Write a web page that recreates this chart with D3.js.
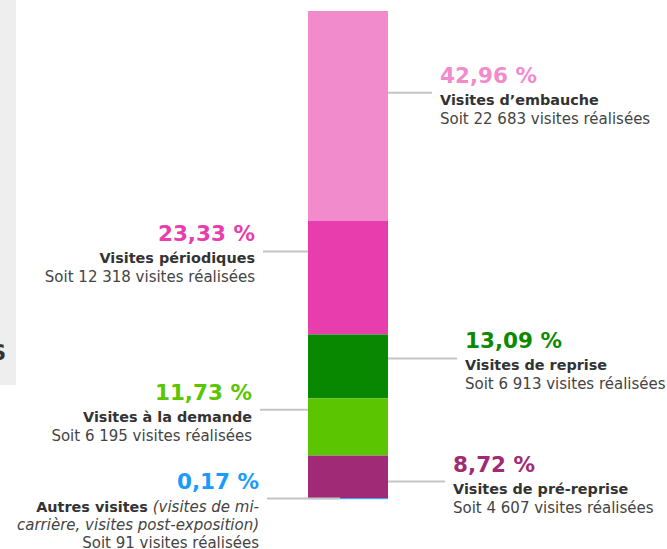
<!DOCTYPE html>
<html lang="fr">
<head>
<meta charset="utf-8">
<script src="https://cdn.jsdelivr.net/npm/d3@7"></script>
<style>
  html, body { margin: 0; padding: 0; background: #ffffff; }
  svg { display: block; font-family: 'DejaVu Sans', sans-serif; }
</style>
</head>
<body>
<svg id="chart" width="667" height="549"></svg>
<script>
const categories = [
  'Visites d\u2019embauche',
  'Visites périodiques',
  'Visites de reprise',
  'Visites à la demande',
  'Visites de pré-reprise',
  'Autres visites',
];
const percents = [42.96, 23.33, 13.09, 11.73, 8.72, 0.17];
const counts = [22683, 12318, 6913, 6195, 4607, 91];
const sides = ['right', 'left', 'right', 'left', 'right', 'left'];
const colors = ['#f28bcb', '#e83dac', '#078800', '#5ac500', '#a02a75', '#1e9bff'];
const textColors = ['#f28bcb', '#e83dac', '#0b8a00', '#5ac500', '#a02a75', '#1a9bff'];

// where the leader line sits inside each segment (0 = top, 1 = bottom)
const anchors = [0.39, 0.27, 0.375, 0.2, 0.61, 0.5];
// leader line length out of the bar
const leaderLen = [44, 45, 69, 48, 57, 41];

const fr = d3.formatLocale({ decimal: ',', thousands: '\u00a0', grouping: [3], currency: ['', ' €'] });
const fmtPct = (v) => `${fr.format('.2f')(v)}\u00a0%`;
const fmtCount = fr.format(',d');

const svg = d3.select('#chart');

// grey strip of the neighbouring panel
svg.append('rect').attr('x', 0).attr('y', 0).attr('width', 16).attr('height', 385).attr('fill', '#eeeeee');
svg.append('text').attr('x', 6).attr('y', 360).attr('text-anchor', 'end')
  .attr('font-size', 21).attr('font-weight', 700).attr('fill', '#333').text('S');

const barX = 308;
const barW = 80;
const y = d3.scaleLinear().domain([0, 100]).range([11, 499]);

const rows = categories.map((name, i) => {
  const start = d3.sum(percents.slice(0, i));
  return {
    name, pct: percents[i], count: counts[i], side: sides[i],
    color: colors[i], textColor: textColors[i],
    y0: y(start), y1: y(start + percents[i]),
    anchor: anchors[i], len: leaderLen[i],
  };
});

svg.append('g').selectAll('rect').data(rows).join('rect')
  .attr('x', barX).attr('width', barW)
  .attr('y', (d) => d.y0)
  .attr('height', (d) => Math.max(1, d.y1 - d.y0))
  .attr('fill', (d) => d.color);

const labels = svg.append('g').selectAll('g').data(rows).join('g')
  .attr('transform', (d) => `translate(0,${d.y0 + (d.y1 - d.y0) * d.anchor})`);

labels.append('line')
  .attr('x1', (d) => (d.side === 'right' ? barX + barW : barX - d.len))
  .attr('x2', (d) => (d.side === 'right' ? barX + barW + d.len : (d.name === 'Autres visites' ? barX + 32 : barX)))
  .attr('stroke', '#c4c4c4').attr('stroke-width', 2);

labels.each(function (d) {
  const g = d3.select(this);
  const right = d.side === 'right';
  const tx = right ? barX + barW + d.len + 8 : barX - d.len - 8;
  const anchor = right ? 'start' : 'end';

  g.append('text').attr('x', tx).attr('y', -10).attr('text-anchor', anchor)
    .attr('font-size', 21.5).attr('font-weight', 700).attr('fill', d.textColor)
    .text(fmtPct(d.pct));

  let soitY = 31;
  if (d.name === 'Autres visites') {
    const t1 = g.append('text').attr('x', tx).attr('y', 13).attr('text-anchor', anchor).attr('fill', '#333');
    t1.append('tspan').attr('font-size', 14.4).attr('font-weight', 700).text(d.name);
    t1.append('tspan').attr('font-size', 15).attr('font-style', 'italic').attr('fill', '#444').text(' (visites de mi-');
    g.append('text').attr('x', tx).attr('y', 31).attr('text-anchor', anchor)
      .attr('font-size', 15).attr('font-style', 'italic').attr('fill', '#444')
      .text('carrière, visites post-exposition)');
    soitY = 49;
  } else {
    g.append('text').attr('x', tx).attr('y', 12).attr('text-anchor', anchor)
      .attr('font-size', 14.4).attr('font-weight', 700).attr('fill', '#333')
      .text(d.name);
  }

  g.append('text').attr('x', tx).attr('y', soitY).attr('text-anchor', anchor)
    .attr('font-size', 15).attr('fill', '#444')
    .text(`Soit ${fmtCount(d.count)} visites réalisées`);
});
</script>
</body>
</html>
